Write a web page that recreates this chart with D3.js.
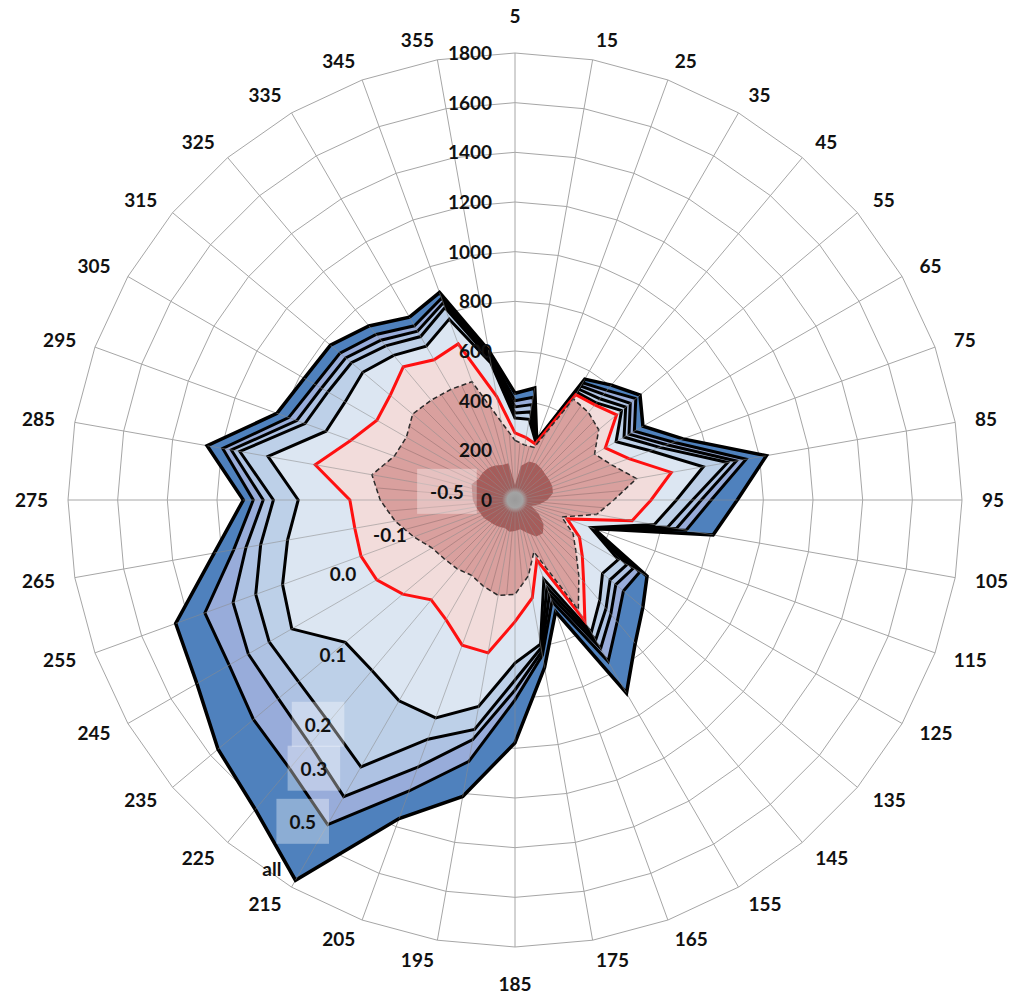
<!DOCTYPE html>
<html><head><meta charset="utf-8">
<script src="https://cdn.jsdelivr.net/npm/d3@7"></script>
<style>body{margin:0;background:#fff}svg{display:block}</style>
</head><body><svg id="c" width="1011" height="995"></svg>
<script>
const categories = [5,15,25,35,45,55,65,75,85,95,105,115,125,135,145,155,165,175,185,195,205,215,225,235,245,255,265,275,285,295,305,315,325,335,345,355];
const tickValues = [0,200,400,600,800,1000,1200,1400,1600,1800];
const seriesNames = ["all","0.5","0.3","0.2","0.1","0.0","-0.1","-0.5"];
const sAll = [430,458,255,562,604,657,595,720,1028,895,810,337,614,672,753,898,478,685,978,1212,1365,1768,1627,1561,1479,1454,1230,1094,1259,1020,980,970,915,850,889,612];
const s05  = [400,420,252,545,576,635,555,680,945,790,700,335,580,570,640,750,435,635,805,1069,1247,1509,1412,1375,1329,1329,1150,1054,1195,970,930,920,870,810,865,600];
const s03  = [375,390,250,530,555,606,530,650,905,750,660,333,550,530,600,690,405,620,765,980,1145,1379,1285,1244,1240,1208,1100,1014,1160,935,900,890,840,785,845,590];
const s02  = [350,360,248,515,532,582,507,620,870,715,625,330,520,500,570,650,375,605,725,938,1025,1241,1167,1138,1143,1111,1040,973,1125,900,870,860,810,760,825,578];
const s01  = [330,330,246,500,510,560,470,580,770,650,570,325,480,460,530,615,340,590,657,844,934,934,896,892,1038,996,930,873,1010,810,790,800,760,715,775,560];
const s00  = [270,255,240,490,500,534,420,488,639,548,479,223,300,354,430,563,257,400,490,625,622,556,525,590,643,660,655,665,817,703,642,656,700,652,669,423];
const sm01 = [240,225,225,470,460,440,370,414,497,398,334,200,270,320,400,510,222,310,380,390,370,350,362,370,386,434,490,543,585,517,505,538,525,515,507,320];
const sm05 = [60,140,165,170,165,160,160,160,155,130,100,70,110,150,175,170,140,120,125,130,120,125,130,135,145,150,160,170,175,186,170,170,168,161,150,150];
// label anchors (direction in degrees on the category circle, value on radial axis)
const labelAngles = [213.4,213.4,216.8,221.2,229.6,246.7,254.4,276.7];
const labelValues = [1779,1553,1352,1204,963,754,523,276];
const labelBoxed  = [false,true,true,true,false,false,false,true];

const seriesData = [sAll,s05,s03,s02,s01,s00,sm01,sm05];
const fills = ["#4F81BD","#98ACDA","#AEC2E3","#BDD0E8","#DCE6F2","#F2DCDB","#D9A09E","#A85C5A"];
const strokes = ["#000","#000","#000","#000","#000","#FF1010","#2a2a2a","none"];
const widths = [3.5,3,3,3,3,3,1.5,0];
const dashes = [null,null,null,null,null,null,"5,3",null];

const cx=515, cy=500, R=447;
const svg = d3.select("#c");
const rS = d3.scaleLinear().domain([0,1800]).range([0,R]);
const aS = d3.scaleLinear().domain([0,categories.length]).range([0,2*Math.PI]);
const g = svg.append("g").attr("transform",`translate(${cx},${cy})`);
const radial = d3.lineRadial().angle((d,i)=>aS(i)).radius(d=>rS(d)).curve(d3.curveLinearClosed);
const pt = (a,r)=>[r*Math.sin(a), -r*Math.cos(a)];

// grid rings
g.selectAll("path.ring").data(tickValues.filter(t=>t>0)).enter().append("path")
 .attr("class","ring").attr("d",t=>radial(categories.map(()=>t)))
 .attr("fill","none").attr("stroke","#A6A6A6").attr("stroke-width",1);
// spokes
g.selectAll("line.spoke").data(categories).enter().append("line")
 .attr("x1",0).attr("y1",0)
 .attr("x2",(d,i)=>pt(aS(i),rS(1800))[0]).attr("y2",(d,i)=>pt(aS(i),rS(1800))[1])
 .attr("stroke","#A6A6A6").attr("stroke-width",1);

// clip paths
const defs = svg.append("defs");
defs.append("clipPath").attr("id","clipAll").append("path").attr("d",radial(sAll));
defs.append("clipPath").attr("id","clipIn").append("path").attr("d",radial(sm01));
const grad = defs.append("radialGradient").attr("id","cg");
grad.append("stop").attr("offset","0%").attr("stop-color","#9a9a9a");
grad.append("stop").attr("offset","60%").attr("stop-color","#a3a3a3");
grad.append("stop").attr("offset","100%").attr("stop-color","#b0a0a0").attr("stop-opacity",0);

// series
seriesData.forEach((s,k)=>{
  g.append("path").attr("d",radial(s)).attr("fill",fills[k])
   .attr("stroke",strokes[k]).attr("stroke-width",widths[k])
   .attr("stroke-linejoin","miter").attr("stroke-miterlimit",4)
   .attr("stroke-dasharray",dashes[k]);
});

// spokes visible through the filled area
const over = g.append("g").attr("clip-path","url(#clipAll)");
over.selectAll("line").data(categories).enter().append("line")
 .attr("x1",0).attr("y1",0)
 .attr("x2",(d,i)=>pt(aS(i),rS(1800))[0]).attr("y2",(d,i)=>pt(aS(i),rS(1800))[1])
 .attr("stroke","#8c8c8c").attr("stroke-opacity",0.55).attr("stroke-width",1);
const inner = g.append("g").attr("clip-path","url(#clipIn)");
inner.selectAll("line").data(categories).enter().append("line")
 .attr("x1",0).attr("y1",0)
 .attr("x2",(d,i)=>pt(aS(i+0.5),rS(1800))[0]).attr("y2",(d,i)=>pt(aS(i+0.5),rS(1800))[1])
 .attr("stroke","#8c6c6c").attr("stroke-opacity",0.5).attr("stroke-width",1);

// center
g.append("circle").attr("r",13).attr("fill","url(#cg)");

const font = "Lato, 'Open Sans', sans-serif";
// tick labels
g.selectAll("text.tick").data(tickValues).enter().append("text")
 .attr("x",-23).attr("y",d=>-rS(d)).attr("dy","0.36em")
 .attr("text-anchor","end").attr("font-family",font).attr("font-weight","bold")
 .attr("font-size",19).attr("fill","#111").text(d=>d);

// category labels: anchored just outside the grid, aligned away from the centre
const LR = R + 20;
g.selectAll("text.cat").data(categories).enter().append("text")
 .each(function(d,i){
   const a = aS(i), s = Math.sin(a), c = Math.cos(a);
   const [x,y] = pt(a, LR);
   const t = d3.select(this);
   if (Math.abs(s) < 1e-6) {
     t.attr("x",0).attr("y", y + (c>0 ? -17 : 17)).attr("text-anchor","middle");
   } else {
     t.attr("x",x).attr("y",y).attr("text-anchor", s>0 ? "start" : "end");
   }
 })
 .attr("dy","0.36em").attr("font-family",font).attr("font-weight","bold")
 .attr("font-size",19).attr("fill","#111").text(d=>d);

// series labels
seriesNames.forEach((n,k)=>{
  const p = pt(labelAngles[k]*Math.PI/180, rS(labelValues[k]));
  const t = g.append("text").attr("x",p[0]).attr("y",p[1]).attr("dy","0.36em")
    .attr("text-anchor","middle").attr("font-family",font).attr("font-weight","bold")
    .attr("font-size",19).attr("fill","#111").text(n);
  if(labelBoxed[k]){
    const b = t.node().getBBox();
    g.insert("rect","text").attr("x",b.x-13).attr("y",b.y-11).attr("width",b.width+26).attr("height",b.height+22)
     .attr("fill","#fff").attr("fill-opacity",0.35);
  }
});
</script></body></html>
